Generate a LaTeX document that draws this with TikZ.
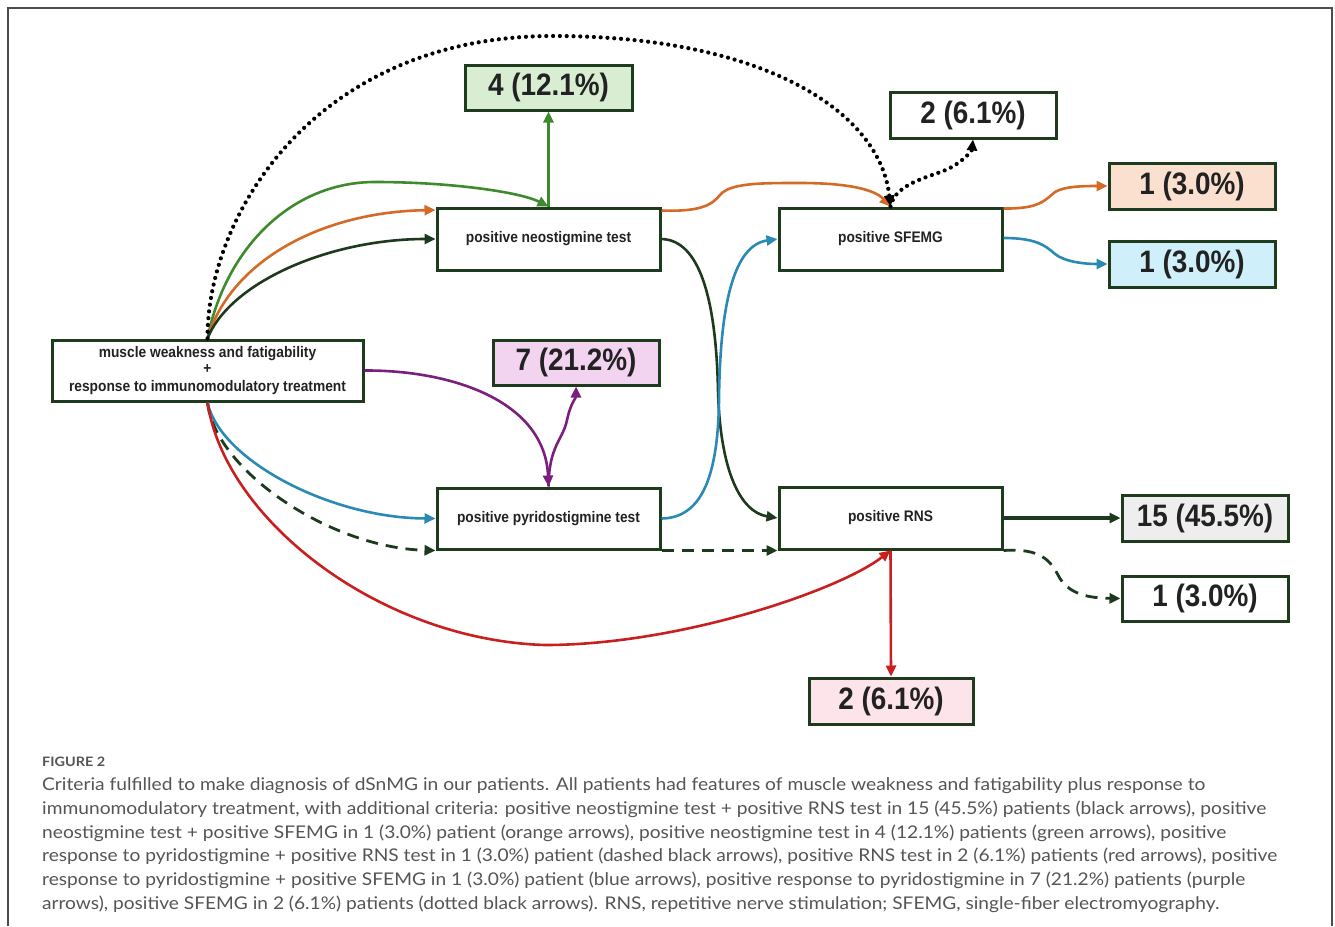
\documentclass[tikz,border=0pt]{standalone}
\usepackage{fontspec}
\setmainfont{Liberation Sans}
\newfontfamily\capfont{Lato}
\usetikzlibrary{arrows.meta,calc}
\definecolor{boxc}{HTML}{1E3B1E}
\definecolor{txtc}{HTML}{222222}
\definecolor{cgreen}{HTML}{3E8A2E}
\definecolor{corange}{HTML}{D46A26}
\definecolor{cdark}{HTML}{1E3A1E}
\definecolor{cblue}{HTML}{2B8AB5}
\definecolor{cpurple}{HTML}{7B1F7E}
\definecolor{cred}{HTML}{C8201E}
\definecolor{fgreen}{HTML}{D9EDD3}
\definecolor{fpeach}{HTML}{FBE0D0}
\definecolor{fblue}{HTML}{CFEFFA}
\definecolor{fpink}{HTML}{F2D3F0}
\definecolor{fgray}{HTML}{EEEEEE}
\definecolor{frose}{HTML}{FCE4EA}
\definecolor{capc}{HTML}{555555}
\newcommand\sq[1]{\scalebox{0.9}[1]{#1}}
\newcommand\capline[2]{\resizebox{#1}{\height}{\capfont #2}}
\begin{document}
\begin{tikzpicture}[x=1pt,y=-1pt,
  box/.style={draw=boxc, line width=3pt, fill=white, inner sep=0pt, text=txtc,
    font=\fontsize{15.3}{17}\selectfont\bfseries, align=center},
  big/.style={box, font=\fontsize{31}{33}\selectfont\bfseries},
  conn/.style={line width=2.6pt, -{Triangle[length=11pt,width=10pt]}},
  dotline/.style={conn, draw=black, line width=4.2pt, line cap=round, dash pattern=on 0pt off 6.8pt},
  dashline/.style={conn, draw=cdark, line width=2.8pt, dash pattern=on 12pt off 8pt},
  capnode/.style={anchor=base west, inner sep=0pt, text=capc, font=\fontsize{17.5}{20}\selectfont}
]
\useasboundingbox (0,0) rectangle (1335,926);
\fill[white] (0,0) rectangle (1335,926);
\draw[gray!60!black, line width=1.5pt] (8,926) -- (8,8) -- (1332,8) -- (1332,926);

% nodes
\node[box, minimum width=311pt, minimum height=61pt] (main) at (207.5,370.5)
  {\sq{muscle weakness and fatigability}\\[-0.5pt]\sq{+}\\[0.5pt]\sq{response to immunomodulatory treatment}};
\node[box, minimum width=223pt, minimum height=62pt] (neo) at (548.5,239) {\sq{positive neostigmine test}};
\node[big, fill=fgreen, minimum width=167pt, minimum height=45pt] (n4) at (548.5,87.5) {\sq{4 (12.1\%)}};
\node[big, minimum width=166pt, minimum height=46pt] (top2) at (973,115) {\sq{2 (6.1\%)}};
\node[box, minimum width=223pt, minimum height=62pt] (sfemg) at (890.5,239) {\sq{positive SFEMG}};
\node[big, fill=fpeach, minimum width=166pt, minimum height=46pt] (o1) at (1192,186) {\sq{1 (3.0\%)}};
\node[big, fill=fblue, minimum width=166pt, minimum height=46pt] (b1) at (1192,264) {\sq{1 (3.0\%)}};
\node[big, fill=fpink, minimum width=166pt, minimum height=45pt] (p7) at (576,362.5) {\sq{7 (21.2\%)}};
\node[box, minimum width=223pt, minimum height=61pt] (pyr) at (548.5,518.5) {\sq{positive pyridostigmine test}};
\node[box, minimum width=223pt, minimum height=62pt] (rns) at (890.5,518) {\sq{positive RNS}};
\node[big, fill=fgray, minimum width=166pt, minimum height=46pt] (g15) at (1205,518) {\sq{15 (45.5\%)}};
\node[big, minimum width=166pt, minimum height=45pt] (d1) at (1205,598.5) {\sq{1 (3.0\%)}};
\node[big, fill=frose, minimum width=164pt, minimum height=46pt] (r2) at (891,701) {\sq{2 (6.1\%)}};

% green
\draw[conn, draw=cgreen] (main.north) .. controls (225,250) and (290,182) .. (375,182)
  .. controls (450,182) and (520,192) .. (neo.north);
\draw[conn, draw=cgreen] (neo.north) -- (n4.south);
% orange
\draw[conn, draw=corange] (main.north) .. controls (230,262) and (320,212) .. (neo.north west |- 0,210);
\draw[conn, draw=corange] ($(neo.north east)+(0,4)$) .. controls (700,212) and (712,205) .. (720,195)
  .. controls (730,183) and (760,183) .. (800,183) .. controls (850,183) and (875,190) .. (sfemg.north);
\draw[conn, draw=corange] ($(sfemg.north east)+(0,2)$) .. controls (1040,209) and (1045,200) .. (1055,192)
  .. controls (1065,186) and (1085,186) .. (o1.west);
% dark (black arrows)
\draw[conn, draw=cdark] (main.north) .. controls (230,282) and (330,239) .. (neo.west);
\draw[conn, draw=cdark] (neo.east) .. controls (700,240) and (716,300) .. (718,390)
  .. controls (720,470) and (740,512) .. (rns.west);
\draw[conn, draw=cdark, line width=3.3pt] (rns.east) -- (g15.west);
% dotted
\draw[dotline] (main.north) .. controls (207,215) and (315,38) .. (549,36)
  .. controls (760,35) and (880,110) .. (sfemg.north);
\draw[dotline] (sfemg.north) .. controls (895,182) and (935,176) .. (950,168)
  .. controls (965,160) and (972,150) .. (top2.south);
% blue
\draw[conn, draw=cblue] (main.south) .. controls (220,460) and (330,518) .. (pyr.west);
\draw[conn, draw=cblue] (pyr.east) .. controls (700,518) and (718,480) .. (719,400)
  .. controls (720,300) and (735,245) .. (sfemg.west);
\draw[conn, draw=cblue] ($(sfemg.east)+(0,-1)$) .. controls (1035,238) and (1045,245) .. (1055,254)
  .. controls (1065,262) and (1085,264) .. (b1.west);
% purple
\draw[conn, draw=cpurple] (main.east) .. controls (450,370) and (545,400) .. (pyr.north);
\draw[conn, draw=cpurple] (pyr.north) .. controls (549,445) and (563,440) .. (567,420)
  .. controls (571,402) and (576,398) .. (p7.south);
% dashed
\draw[dashline] (main.south) .. controls (215,470) and (330,548) .. (pyr.south west);
\draw[dashline] (pyr.south east) -- (rns.south west);
\draw[dashline] (rns.south east) .. controls (1040,548) and (1050,560) .. (1058,575)
  .. controls (1068,595) and (1090,598) .. (d1.west);
% red
\draw[conn, draw=cred] (main.south) .. controls (225,520) and (380,640) .. (545,645)
  .. controls (680,645) and (840,590) .. (rns.south);
\draw[conn, draw=cred] (rns.south) -- (r2.north);

% caption
\node[anchor=base west, inner sep=0pt, text=capc, font=\fontsize{13}{15}\selectfont] (figlab) at (42,766)
  {\resizebox{63pt}{\height}{\capfont\bfseries FIGURE 2}};
\node[capnode] (c1) at (42,790) {\capline{1163pt}{Criteria fulfilled to make diagnosis of dSnMG in our patients. All patients had features of muscle weakness and fatigability plus response to}};
\node[capnode] (c2) at (42,814) {\capline{1224pt}{immunomodulatory treatment, with additional criteria: positive neostigmine test + positive RNS test in 15 (45.5\%) patients (black arrows), positive}};
\node[capnode] (c3) at (42,838) {\capline{1184pt}{neostigmine test + positive SFEMG in 1 (3.0\%) patient (orange arrows), positive neostigmine test in 4 (12.1\%) patients (green arrows), positive}};
\node[capnode] (c4) at (42,861.5) {\capline{1235pt}{response to pyridostigmine + positive RNS test in 1 (3.0\%) patient (dashed black arrows), positive RNS test in 2 (6.1\%) patients (red arrows), positive}};
\node[capnode] (c5) at (42,885) {\capline{1203pt}{response to pyridostigmine + positive SFEMG in 1 (3.0\%) patient (blue arrows), positive response to pyridostigmine in 7 (21.2\%) patients (purple}};
\node[capnode] (c6) at (42,909) {\capline{1177pt}{arrows), positive SFEMG in 2 (6.1\%) patients (dotted black arrows). RNS, repetitive nerve stimulation; SFEMG, single-fiber electromyography.}};
\end{tikzpicture}
\end{document}
